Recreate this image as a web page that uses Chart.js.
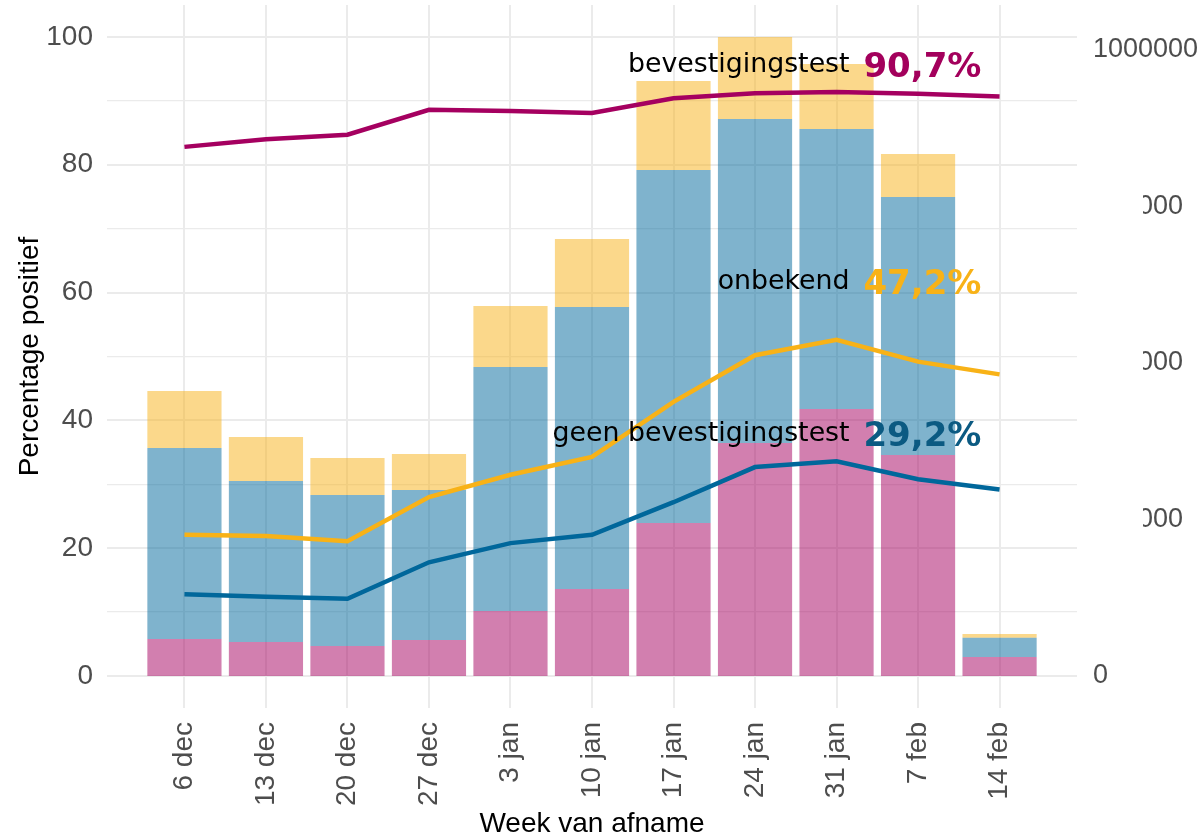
<!DOCTYPE html>
<html>
<head>
<meta charset="utf-8">
<script src="https://cdn.jsdelivr.net/npm/chart.js@4.4.1/dist/chart.umd.min.js"></script>
<style>
  html, body { margin: 0; padding: 0; background: #ffffff; }
  #wrap { width: 1199px; height: 840px; position: relative; }
</style>
</head>
<body>
<div id="wrap"><canvas id="c"></canvas></div>
<script>
// ---- data ----
const weeks = ['6 dec', '13 dec', '20 dec', '27 dec', '3 jan', '10 jan', '17 jan', '24 jan', '31 jan', '7 feb', '14 feb'];

// number of tests per week (right axis), stacked
const testsBevestiging = [59100, 54300, 47900, 57500, 103800, 139000, 244400, 372200, 426500, 353000, 30300];
const testsGeen        = [305100, 257200, 241200, 239600, 389800, 450500, 563900, 517600, 447300, 412100, 30800];
const testsOnbekend    = [91000, 70300, 59100, 57500, 97400, 108600, 142200, 131000, 103800, 68700, 5900];

// percentage positive (left axis)
const pctBevestiging = [82.8, 84.0, 84.7, 88.6, 88.4, 88.1, 90.4, 91.2, 91.4, 91.1, 90.7];
const pctOnbekend    = [22.1, 21.9, 21.1, 28.0, 31.5, 34.3, 42.9, 50.2, 52.6, 49.2, 47.2];
const pctGeen        = [12.8, 12.4, 12.1, 17.8, 20.8, 22.1, 27.2, 32.7, 33.6, 30.8, 29.2];

const leftTicks  = [0, 10, 20, 30, 40, 50, 60, 70, 80, 90, 100];
const rightTicks = [0, 250000, 500000, 750000, 1000000];

const labelNames = ['bevestigingstest', 'onbekend', 'geen bevestigingstest'];
const labelPcts  = ['90,7%', '47,2%', '29,2%'];

// ---- styles ----
const cMag = '#a50060', cOra = '#f8b217', cBlu = '#00679b';
const labelColors = ['#a3005c', '#f8b217', '#0b5a82'];
const labelYVals = [94.5, 60.6, 36.8];

const toXY = arr => arr.map((v, i) => ({ x: i, y: v }));
const tickFont = { family: 'Liberation Sans', size: 28 };

const annoPlugin = {
  id: 'anno',
  afterDatasetsDraw(chart) {
    const { ctx, scales } = chart;
    const xName = scales.x.getPixelForValue(8.16);
    const xPct = scales.x.getPixelForValue(8.33);
    ctx.save();
    ctx.textBaseline = 'alphabetic';
    labelNames.forEach((n, i) => {
      const y = scales.y.getPixelForValue(labelYVals[i]);
      ctx.font = '26.8px "DejaVu Sans"';
      ctx.fillStyle = '#000000';
      ctx.textAlign = 'right';
      ctx.fillText(n, xName, y);
      ctx.font = 'bold 34px "DejaVu Sans"';
      ctx.fillStyle = labelColors[i];
      ctx.textAlign = 'left';
      ctx.fillText(labelPcts[i], xPct, y + 5);
    });
    ctx.restore();
  },
  afterDraw(chart) {
    // the reference image has the left part of the middle right-axis labels cut away
    const s = chart.scales.yR;
    const { ctx } = chart;
    const y1 = s.getPixelForValue(875000), y2 = s.getPixelForValue(125000);
    ctx.save();
    ctx.fillStyle = '#ffffff';
    ctx.fillRect(s.left + 1, y1, 65, y2 - y1);
    ctx.restore();
  }
};

const noPadV = s => { s.paddingTop = 0; s.paddingBottom = 0; };

new Chart(document.getElementById('c'), {
  type: 'bar',
  data: {
    datasets: [
      { type: 'line', label: 'bevestigingstest %', data: toXY(pctBevestiging), yAxisID: 'y', borderColor: cMag, borderWidth: 4.5, pointRadius: 0, tension: 0, order: 0 },
      { type: 'line', label: 'onbekend %', data: toXY(pctOnbekend), yAxisID: 'y', borderColor: cOra, borderWidth: 4.5, pointRadius: 0, tension: 0, order: 0 },
      { type: 'line', label: 'geen bevestigingstest %', data: toXY(pctGeen), yAxisID: 'y', borderColor: cBlu, borderWidth: 4.5, pointRadius: 0, tension: 0, order: 0 },
      { label: 'bevestigingstest', data: toXY(testsBevestiging), yAxisID: 'yR', backgroundColor: 'rgba(165,0,96,0.5)', order: 1, categoryPercentage: 1, barPercentage: 0.91 },
      { label: 'geen bevestigingstest', data: toXY(testsGeen), yAxisID: 'yR', backgroundColor: 'rgba(0,103,155,0.5)', order: 1, categoryPercentage: 1, barPercentage: 0.91 },
      { label: 'onbekend', data: toXY(testsOnbekend), yAxisID: 'yR', backgroundColor: 'rgba(248,178,23,0.5)', order: 1, categoryPercentage: 1, barPercentage: 0.91 }
    ]
  },
  options: {
    responsive: true,
    maintainAspectRatio: false,
    animation: false,
    layout: { padding: { top: 5, left: 0, right: 0, bottom: 0 } },
    plugins: { legend: { display: false }, tooltip: { enabled: false } },
    scales: {
      x: {
        type: 'linear',
        min: -0.95,
        max: 10.95,
        offset: false,
        stacked: true,
        afterBuildTicks: s => { s.ticks = weeks.map((w, i) => ({ value: i })); },
        afterFit: s => { s.height = 132; s.paddingLeft = 0; s.paddingRight = 0; },
        grid: { color: '#ebebeb', lineWidth: 2, drawTicks: false, offset: false },
        border: { display: false },
        ticks: {
          autoSkip: false, minRotation: 90, maxRotation: 90, padding: 14,
          color: '#4d4d4d', font: tickFont,
          callback: v => weeks[v]
        },
        title: { display: true, text: 'Week van afname', color: '#000000', font: { family: 'Liberation Sans', size: 28, lineHeight: 1 }, padding: { top: 0, bottom: 2 } }
      },
      y: {
        position: 'left',
        min: -5,
        max: 105,
        stacked: false,
        afterBuildTicks: s => { s.ticks = leftTicks.map(v => ({ value: v })); },
        afterFit: s => { s.width = 107; noPadV(s); },
        grid: { color: '#ebebeb', lineWidth: ctx => (ctx.tick && ctx.tick.value % 20 === 0 ? 2 : 1.3), drawTicks: false },
        border: { display: false },
        ticks: { color: '#4d4d4d', font: tickFont, padding: 14, callback: v => (v % 20 === 0 ? String(v) : '') },
        title: { display: true, text: 'Percentage positief', color: '#000000', font: { family: 'Liberation Sans', size: 28, lineHeight: 1.2 }, padding: { top: 13, bottom: 0 } }
      },
      yR: {
        position: 'right',
        min: -51118,
        max: 1071885,
        stacked: true,
        afterBuildTicks: s => { s.ticks = rightTicks.map(v => ({ value: v })); },
        afterFit: s => { s.width = 122; noPadV(s); },
        grid: { display: false, drawTicks: false },
        border: { display: false },
        ticks: { color: '#4d4d4d', font: { family: 'Liberation Sans', size: 27 }, padding: 16, callback: v => String(v) }
      }
    }
  },
  plugins: [annoPlugin]
});
</script>
</body>
</html>
